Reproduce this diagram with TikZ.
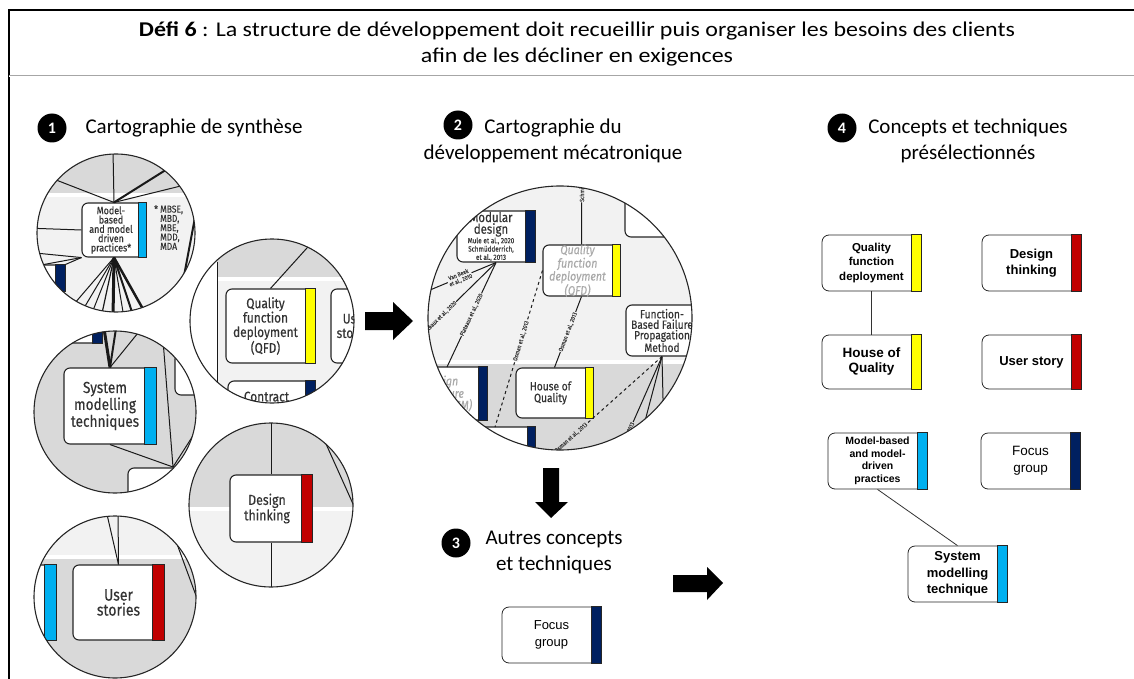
\documentclass[tikz,border=0pt]{standalone}
\usepackage{fontspec}
\setmainfont{Carlito}
\newfontfamily\titlefont[FakeStretch=1.14]{Carlito}
\newfontfamily\arialfont{Liberation Sans}
\newfontfamily\condfont[FakeStretch=0.85, FakeBold=0.3]{Fira Sans}
\usetikzlibrary{positioning}

\definecolor{qfdyellow}{RGB}{255,255,0}
\definecolor{dtred}{RGB}{192,0,0}
\definecolor{smblue}{RGB}{0,176,240}
\definecolor{fgnavy}{RGB}{0,32,96}
\definecolor{darkband}{RGB}{217,217,217}
\definecolor{lightband}{RGB}{242,242,242}
\definecolor{fadedgrey}{RGB}{170,170,170}

\newcommand{\sz}[2]{\fontsize{#1}{#2}\selectfont}
% colour tag on the right end of a box
\newcommand{\colourbar}[3][10pt]{\filldraw[fill=#3, draw=black!85, line width=0.9pt] ([xshift=-#1]#2.north east) rectangle (#2.south east);}

\tikzset{
  concept/.style={draw=black!85, line width=0.8pt, rounded corners=7pt, fill=white, align=center, inner sep=1pt, minimum width=99pt, minimum height=56pt},
  zoombox/.style={draw=black!85, line width=1.1pt, rounded corners=6pt, fill=white, inner sep=0pt},
  zoomtext/.style={align=center, text=black!80, inner sep=0pt},
  stepnum/.style={circle, fill=black, text=white, minimum size=29pt, inner sep=0pt, font=\sz{16}{16}\bfseries},
  heading/.style={align=center, font=\sz{21}{26}},
  lens/.style={draw=black!85, line width=1.1pt},
  link/.style={draw=black!90, line width=1pt},
  ref/.style={sloped, inner sep=0.6pt, text=black!75, font=\condfont\sz{6}{6}},
}

\begin{document}
\begin{tikzpicture}[x=1pt, y=-1pt]
  \useasboundingbox (0,0) rectangle (1134,679);
  % Draw the frame and the title
  \draw[line width=2pt] (9,679) -- (9,10) -- (1134,10);
  \draw[black!35, line width=0.7pt, double=white, double distance=0.8pt] (9,76) -- (1134,76);
  \node[align=center, font=\titlefont\sz{21}{26}] (title) at (577,44)
    {\textbf{Défi 6} : La structure de développement doit recueillir puis organiser les besoins des clients\\afin de les décliner en exigences};

  % Place the step headings
  \node[stepnum] (num1) at (52,128) {1};
  \node[heading, anchor=west] (head1) at (82,128) {Cartographie de synthèse};
  \node[stepnum] (num2) at (458,125) {2};
  \node[heading] (head2) at (553,141) {Cartographie du\\développement mécatronique};
  \node[stepnum] (num3) at (456,543) {3};
  \node[heading] (head3) at (554,552) {Autres concepts\\et techniques};
  \node[stepnum] (num4) at (842,128) {4};
  \node[heading] (head4) at (968,141) {Concepts et techniques\\présélectionnés};

  % Lens 1a: model-based practices
  \begin{scope}
    \clip (116,233) circle[radius=79pt];
    \fill[lightband] (30,150) rectangle (200,315);
    \fill[darkband] (30,150) rectangle (200,193);
    \draw[white, line width=4pt] (30,195) -- (200,195);
    \node[zoombox, minimum width=64pt, minimum height=54pt,
      label={[zoomtext, font=\condfont\sz{10.5}{9.3}, xshift=-3pt]center:{Model-\\based\\and model\\driven\\practices*}}] (mbzoom) at (114,230) {};
    \colourbar[8pt]{mbzoom}{smblue}
    \node[zoombox, minimum width=36pt, minimum height=26pt] (navyfragA) at (47,278) {};
    \colourbar{navyfragA}{fgnavy}
    \draw[link] (mbzoom.north) -- (113,150);
    \draw[link] (mbzoom.north) -- (20,166);
    \draw[link, line width=2pt] (mbzoom.north) -- (180,161);
    \draw[link] (mbzoom.north) -- (205,180);
    \draw[link] (mbzoom.west) -- (25,228);
    \draw[link] (mbzoom.south west) -- (25,252);
    \draw[link] (mbzoom.south west) -- (25,268);
    \draw[link] (mbzoom.south west) -- (navyfragA.north east);
    \foreach \x/\w in {62/1pt, 78/1pt, 90/1pt, 101/1.2pt, 113/3pt, 124/1pt, 134/2pt, 148/2.5pt}
      \draw[link, line width=\w] (mbzoom.south) -- (\x,318);
    \draw[link, line width=2pt] (199,196) -- (181,292);
    \node[zoomtext, font=\condfont\sz{10}{9.3}, align=left, anchor=north west] (mbnote) at (160,205)
      {\llap{* }MBSE,\\MBD,\\MBE,\\MDD,\\MDA};
  \end{scope}
  \draw[lens] (116,233) circle[radius=79pt];

  % Lens 1b: quality function deployment
  \begin{scope}
    \clip (272,321) circle[radius=82pt];
    \fill[lightband] (185,235) rectangle (360,410);
    \fill[darkband] (185,235) rectangle (360,277);
    \draw[white, line width=4pt] (185,279) -- (360,279);
    \fill[white] (185,262) rectangle (217,410);
    \draw[link] (217,262) -- (217,410);
    \node[zoombox, minimum width=89pt, minimum height=74pt,
      label={[zoomtext, font=\condfont\sz{14}{14.4}, xshift=-5pt]center:{Quality\\function\\deployment\\(QFD)}}] (qfdzoom) at (270.5,326) {};
    \colourbar{qfdzoom}{qfdyellow}
    \node[zoombox, minimum width=69pt, minimum height=74pt,
      label={[zoomtext, font=\condfont\sz{14}{14.4}, anchor=west, xshift=6pt]west:{User\\stories}}] (usfragB) at (365.5,326) {};
    \node[zoombox, minimum width=87pt, minimum height=49pt,
      label={[zoomtext, font=\condfont\sz{14}{14.4}, anchor=north, yshift=-11pt, xshift=-5pt]north:{Contract}}] (contractzoom) at (271.5,405.5) {};
    \colourbar{contractzoom}{fgnavy}
    \draw[link] (qfdzoom.north) -- (325,228);
  \end{scope}
  \draw[lens] (272,321) circle[radius=82pt];

  % Lens 1c: system modelling techniques
  \begin{scope}
    \clip (115,412) circle[radius=81pt];
    \fill[darkband] (30,325) rectangle (200,500);
    \node[zoombox, minimum width=50pt, minimum height=30pt] (navyfragC) at (77,328) {};
    \colourbar{navyfragC}{fgnavy}
    \node[zoombox, minimum width=60pt, minimum height=42pt] (rightfragC) at (205,374) {};
    \node[zoombox, minimum width=84pt, minimum height=44pt] (lowfragC) at (170,490) {};
    \node[zoombox, minimum width=92pt, minimum height=76pt,
      label={[zoomtext, font=\condfont\sz{16}{15.5}, xshift=-5pt]center:{System\\modelling\\techniques}}] (smzoom) at (110,406) {};
    \colourbar[12pt]{smzoom}{smblue}
    \coordinate (hubC) at (173,467);
    \draw[link, line width=3pt] (smzoom.north) -- (103,322);
    \draw[link, line width=2pt] (smzoom.north) -- (117,322);
    \draw[link] (smzoom.north) -- (142,328);
    \draw[link] (smzoom.south) -- (hubC);
    \draw[link] (163,340) -- (hubC);
    \draw[link] (hubC) -- (203,420);
    \draw[link] (58,478) -- (110,497);
  \end{scope}
  \draw[lens] (115,412) circle[radius=81pt];

  % Lens 1d: design thinking
  \begin{scope}
    \clip (271,505) circle[radius=82pt];
    \fill[lightband] (185,420) rectangle (360,590);
    \fill[darkband] (185,420) rectangle (360,507);
    \draw[white, line width=4pt] (185,509) -- (360,509);
    \node[zoombox, minimum width=82pt, minimum height=67pt,
      label={[zoomtext, font=\condfont\sz{14.5}{13.5}, xshift=-4pt]center:{Design\\thinking}}] (dtzoom) at (271,508.5) {};
    \colourbar[11pt]{dtzoom}{dtred}
    \draw[link] (dtzoom.north) -- (271,415);
    \draw[link] (dtzoom.south) -- (271,600);
    \draw[link] (322,435) -- (358,515);
  \end{scope}
  \draw[lens] (271,505) circle[radius=82pt];

  % Lens 1e: user stories
  \begin{scope}
    \clip (115,597) circle[radius=81pt];
    \fill[darkband] (30,510) rectangle (200,685);
    \fill[lightband] (30,510) rectangle (200,555);
    \draw[white, line width=4pt] (30,557) -- (200,557);
    \node[zoombox, minimum width=52pt, minimum height=75pt] (bluefragE) at (30,602.5) {};
    \colourbar[12pt]{bluefragE}{smblue}
    \node[zoombox, minimum width=91pt, minimum height=75pt,
      label={[zoomtext, font=\condfont\sz{16.5}{15}]center:{User\\stories}}] (uszoom) at (118.5,602.5) {};
    \colourbar[12pt]{uszoom}{dtred}
    \draw[link] (uszoom.north) -- (106,510);
    \draw[link] (uszoom.north) -- (118,510);
    \draw[link] (170,525) -- (205,620);
  \end{scope}
  \draw[lens] (115,597) circle[radius=81pt];

  % Lens 2: mechatronic development map
  \begin{scope}
    \clip (560,318) circle[radius=132pt];
    \fill[lightband] (420,180) rectangle (700,460);
    \fill[darkband] (420,364) rectangle (700,460);
    \draw[white, line width=4pt] (420,362) -- (700,362);
    \filldraw[fill=white, draw=black!85, line width=1.1pt, rounded corners=6pt] (625,175) -- (625,237) -- (705,237);
    \node[zoombox, minimum width=78pt, minimum height=51pt,
      label={[zoomtext, font=\condfont\sz{7.5}{8.3}, xshift=-5pt]center:{\sz{13.5}{12}Modular\\\sz{13.5}{11}design\\Mule et al., 2020\\Schmüdderrich,\\et al., 2013}}] (modular) at (496,236.5) {};
    \colourbar{modular}{fgnavy}
    \node[zoombox, minimum width=77pt, minimum height=51pt,
      label={[zoomtext, text=fadedgrey, font=\condfont\itshape\sz{12.5}{10.5}, xshift=-4pt]center:{Quality\\function\\deployment\\(QFD)}}] (qfdfaded) at (581.5,270.5) {};
    \colourbar[8pt]{qfdfaded}{qfdyellow}
    \node[zoombox, minimum width=72pt, minimum height=51pt,
      label={[zoomtext, font=\condfont\sz{12}{10.5}]center:{Function-\\Based Failure\\Propagation\\Method}}] (fbfpm) at (662,330.5) {};
    \node[zoombox, minimum width=77pt, minimum height=50pt,
      label={[zoomtext, font=\condfont\sz{12}{11.7}, xshift=-4pt]center:{House of\\Quality}}] (hoq) at (554.5,393) {};
    \colourbar[8pt]{hoq}{qfdyellow}
    \node[zoombox, minimum width=84pt, minimum height=53pt,
      label={[zoomtext, text=fadedgrey, font=\condfont\itshape\sz{12.5}{10.5}, xshift=-3pt]center:{Design\\Structure\\Matrix (DSM)}}] (dsm) at (445,393.5) {};
    \colourbar[9pt]{dsm}{fgnavy}
    \node[zoombox, minimum width=65pt, minimum height=42pt] (navyfragF) at (502.5,448) {};
    \colourbar[8pt]{navyfragF}{fgnavy}
    % Draw the links with their references
    \draw[link] (qfdfaded.north) -- node[ref, fill=lightband, pos=0.44, anchor=west] {Schmüdderrich} (582,150);
    \draw[link] (qfdfaded.south) -- node[ref, fill=lightband] {Osman et al., 2013} (hoq.north);
    \draw[link, dashed] (qfdfaded.west) -- node[ref, fill=lightband, pos=0.45] {Osman et al., 2013} (495,427);
    \draw[link] (modular.south) -- node[ref, fill=lightband, pos=0.5] {Plateaux et al., 2020} (447,367);
    \draw[link] (modular.south) -- node[ref, fill=lightband, pos=0.7] {Plateaux et al., 2020} (415,342);
    \draw[link] (modular.south) -- node[ref, fill=lightband, pos=0.55, align=center] {Van Beek\\et al., 2010} (430,290);
    \draw[link, dashed] (fbfpm.south) -- node[ref, fill=darkband, pos=0.85] {Osman et al., 2013} (555,452);
    \draw[link] (fbfpm.south) -- node[ref, fill=darkband, pos=0.75] {Osman et al., 2013} (612,470);
    \draw[link] (fbfpm.south) -- (640,440);
    \draw[link] (fbfpm.south) -- (664,440);
  \end{scope}
  \draw[lens] (560,318) circle[radius=132pt];

  % Draw the block arrows
  \fill (365,312) -- (393,312) -- (393,302) -- (413,321) -- (393,340) -- (393,330) -- (365,330) -- cycle;
  \fill (543,468) -- (559,468) -- (559,502) -- (568,502) -- (551,518) -- (535,502) -- (543,502) -- cycle;
  \fill (673,575) -- (707,575) -- (707,567) -- (723,583) -- (707,600) -- (707,592) -- (673,592) -- cycle;

  % Other concepts
  \node[concept, font=\arialfont\sz{13}{17}] (fgother) at (551.5,635) {Focus\\group};
  \colourbar{fgother}{fgnavy}

  % Preselected concepts
  \node[concept, font=\arialfont\bfseries\sz{11.5}{14.5}] (qfdsel) at (871.5,263) {Quality\\function\\deployment};
  \colourbar{qfdsel}{qfdyellow}
  \node[concept, font=\arialfont\bfseries\sz{13}{16.5}] (dtsel) at (1031.5,263) {Design\\thinking};
  \colourbar{dtsel}{dtred}
  \node[concept, minimum height=54pt, font=\arialfont\bfseries\sz{13.5}{15}] (hoqsel) at (871.5,362) {House of\\Quality};
  \colourbar{hoqsel}{qfdyellow}
  \node[concept, minimum height=54pt, font=\arialfont\bfseries\sz{13}{15}] (ussel) at (1031.5,362) {User story};
  \colourbar{ussel}{dtred}
  \node[concept, font=\arialfont\bfseries\sz{10.5}{12.5}] (mbsel) at (877.5,461) {Model-based\\and model-\\driven\\practices};
  \colourbar{mbsel}{smblue}
  \node[concept, font=\arialfont\sz{13.5}{17}] (fgsel) at (1030.5,461) {Focus\\group};
  \colourbar{fgsel}{fgnavy}
  \node[concept, font=\arialfont\bfseries\sz{13}{16.3}] (smsel) at (957.5,574) {System\\modelling\\technique};
  \colourbar{smsel}{smblue}
  \draw[black!80, line width=0.8pt] (qfdsel.south) -- (hoqsel.north);
  \draw[black!80, line width=0.8pt] (mbsel.south) -- (smsel.north);
\end{tikzpicture}
\end{document}
